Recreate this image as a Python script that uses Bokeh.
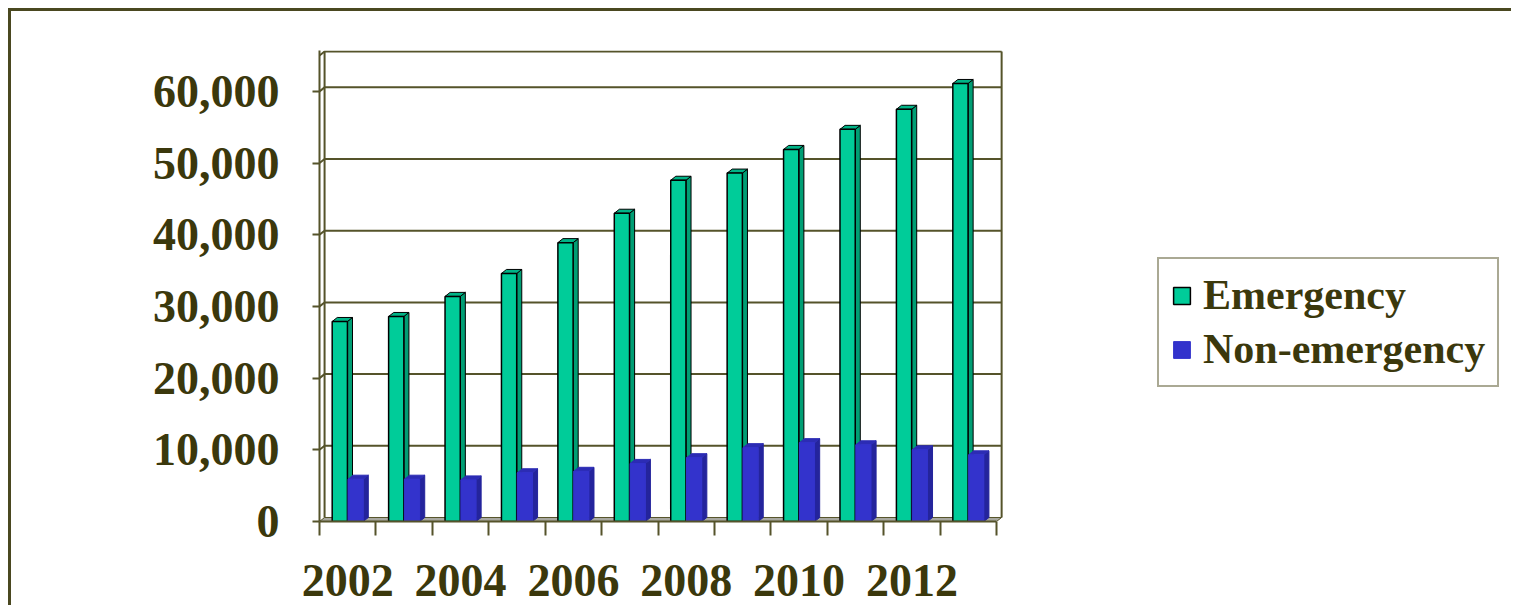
from bokeh.plotting import figure
from bokeh.models import (Range1d, FixedTicker, NumeralTickFormatter, ColumnDataSource,
                          Legend, LegendItem)
from bokeh.embed import file_html
from bokeh.resources import INLINE

# ---------------- data ----------------
years = [2002, 2003, 2004, 2005, 2006, 2007, 2008, 2009, 2010, 2011, 2012, 2013]
emergency = [27900, 28600, 31400, 34600, 38900, 43000, 47600, 48600, 51900, 54700, 57500, 61100]
non_emergency = [5900, 5900, 5800, 6800, 7000, 8100, 8900, 10300, 11000, 10700, 10000, 9300]
series_names = ["Emergency", "Non-emergency"]
y_ticks = [0, 10000, 20000, 30000, 40000, 50000, 60000]
x_label_years = [2002, 2004, 2006, 2008, 2010, 2012]

# ---------------- style ----------------
TEXT = "#3b380c"
LINE = "#55532a"
FONT = "Liberation Serif"
G_FRONT, G_SIDE, G_TOP = "#00cc99", "#009e74", "#00b487"
B_FRONT, B_SIDE, B_TOP = "#3333cc", "#24249c", "#2c2cb4"
DX = 0.09      # 3-D depth (category units)
DY = 560       # 3-D depth (value units)
W = 0.27       # bar width
OFFS = [0.36, 0.64]
SHIFT = 11     # canvas offset caused by the slide frame (margin + border)

n = len(years)

p = figure(width=1514 - SHIFT, height=608 - SHIFT,
           x_range=Range1d(0, 21.18), y_range=Range1d(0, 65700),
           output_backend="svg", toolbar_location=None,
           min_border_left=319 - SHIFT, min_border_right=0,
           min_border_top=50 - SHIFT, min_border_bottom=87)
p.styles = {"margin-left": "8px", "margin-top": "8px",
            "border-left": "3px solid #4a4820", "border-top": "3px solid #4a4820"}
p.xgrid.visible = False
p.ygrid.visible = False
p.outline_line_color = None
p.background_fill_color = "white"
p.border_fill_color = "white"

# floor
p.patch([0, n, n + DX, DX], [0, 0, DY, DY], fill_color="#a8a8a0", line_color=LINE, line_width=1)

# back wall + gridlines
wall_top = 65000 + DY
grid_xs, grid_ys = [], []
for v in y_ticks[1:]:
    grid_xs.append([0, DX, n + DX]); grid_ys.append([v, v + DY, v + DY])
grid_xs.append([DX, DX]); grid_ys.append([DY, wall_top])
grid_xs.append([n + DX, n + DX]); grid_ys.append([DY, wall_top])
grid_xs.append([0, DX, n + DX]); grid_ys.append([wall_top - DY, wall_top, wall_top])
p.multi_line(grid_xs, grid_ys, line_color=LINE, line_width=2)

fronts = []
for vals, off, cols, outline in [(emergency, OFFS[0], (G_FRONT, G_SIDE, G_TOP), "black"),
                                 (non_emergency, OFFS[1], (B_FRONT, B_SIDE, B_TOP), None)]:
    xl = [i + off - W / 2 for i in range(n)]
    xr = [i + off + W / 2 for i in range(n)]
    side = ColumnDataSource(dict(
        xs=[[r, r + DX, r + DX, r] for r in xr],
        ys=[[0, DY, v + DY, v] for v in vals]))
    top = ColumnDataSource(dict(
        xs=[[l, r, r + DX, l + DX] for l, r in zip(xl, xr)],
        ys=[[v, v, v + DY, v + DY] for v in vals]))
    p.patches("xs", "ys", source=side, fill_color=cols[1], line_color=outline or cols[1], line_width=1)
    p.patches("xs", "ys", source=top, fill_color=cols[2], line_color=outline or cols[2], line_width=1)
    front = p.quad(left=xl, right=xr, bottom=[0] * n, top=vals, fill_color=cols[0],
                   line_color=outline or cols[0], line_width=1.5 if outline else 1)
    fronts.append(front)

# axes
xax = p.xaxis[0]
label_pos = [years.index(y) + 0.5 for y in x_label_years]
xax.ticker = FixedTicker(ticks=label_pos, minor_ticks=list(range(n + 1)))
xax.major_label_overrides = {pos: str(y) for pos, y in zip(label_pos, x_label_years)}
xax.bounds = (0, n)
xax.major_tick_line_color = None
xax.major_tick_out = 0
xax.major_tick_in = 0
xax.minor_tick_out = 14
xax.minor_tick_in = 0
xax.minor_tick_line_color = LINE
xax.minor_tick_line_width = 2
xax.axis_line_color = LINE
xax.axis_line_width = 2
xax.major_label_text_font = FONT
xax.major_label_text_font_style = "bold"
xax.major_label_text_font_size = "46px"
xax.major_label_text_color = TEXT
xax.major_label_standoff = 29

yax = p.yaxis[0]
yax.ticker = FixedTicker(ticks=y_ticks, minor_ticks=[])
yax.formatter = NumeralTickFormatter(format="0,0")
yax.major_tick_out = 7
yax.major_tick_in = 0
yax.major_tick_line_color = LINE
yax.major_tick_line_width = 2
yax.axis_line_color = LINE
yax.axis_line_width = 2
yax.major_label_text_font = FONT
yax.major_label_text_font_style = "bold"
yax.major_label_text_font_size = "46px"
yax.major_label_text_color = TEXT
yax.major_label_standoff = 33

legend = Legend(items=[LegendItem(label=series_names[0], renderers=[fronts[0]]),
                       LegendItem(label=series_names[1], renderers=[fronts[1]])],
                location=(838, 134))
legend.label_text_font = FONT
legend.label_text_font_style = "bold"
legend.label_text_font_size = "42px"
legend.label_text_color = TEXT
legend.glyph_width = 21
legend.glyph_height = 21
legend.label_standoff = 11
legend.padding = 12
legend.spacing = 6
legend.margin = 0
legend.border_line_color = LINE
legend.border_line_width = 2
legend.background_fill_color = "white"
legend.background_fill_alpha = 1.0
p.add_layout(legend)

open("out.html", "w").write(file_html(p, INLINE))
